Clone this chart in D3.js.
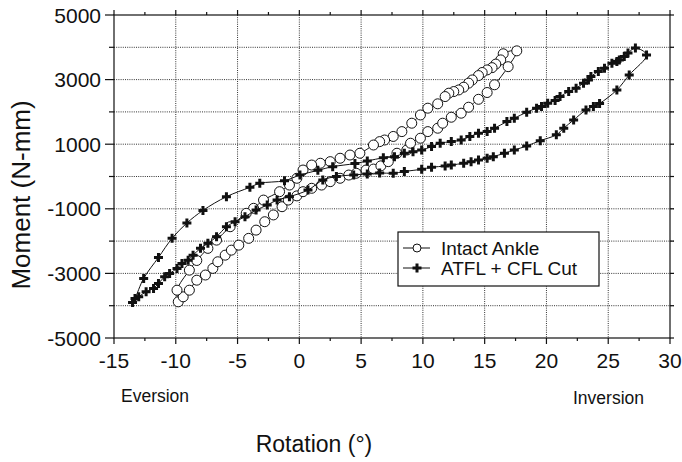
<!DOCTYPE html>
<meta charset="utf-8">

<head>
  <style>
    body { margin: 0; background: #fff; }
    text { font-family: "Liberation Sans", Arial, sans-serif; fill: #111; }
    .grid line { stroke: #333; stroke-width: 1; stroke-dasharray: 1, 1.2; }
    .frame { stroke: #111; stroke-width: 1.2; fill: none; }
    .tick-mark { stroke: #111; stroke-width: 1.2; }
    .loop { fill: none; stroke: #111; stroke-width: 1; }
  </style>
</head>

<body>
  <script src="https://d3js.org/d3.v7.min.js"></script>

  <div id="chart"></div>

  <script>

    // --- data (rotation in degrees, moment in N-mm) ---
    // Intact ankle: loading branch (eversion -> inversion) then unloading branch back
    var intactLoading = [
      [-9.8, -3880], [-9.4, -3725], [-8.9, -3520], [-8.3, -3210], [-7.6, -3050], [-7.0, -2845],
      [-6.6, -2640], [-6.0, -2435], [-5.5, -2280], [-4.9, -2125], [-4.1, -1915], [-3.5, -1660],
      [-2.8, -1400], [-2.1, -1190], [-1.4, -935], [-0.9, -730], [-0.2, -600], [0.3, -470],
      [1.0, -365], [1.8, -265], [2.5, -160], [3.3, -55], [4.0, 45], [4.6, 100], [5.4, 200],
      [6.0, 230], [6.6, 330], [7.2, 460], [7.9, 720], [8.7, 820], [9.0, 1030], [9.8, 1185],
      [10.4, 1390], [11.2, 1495], [11.6, 1650], [12.3, 1835], [13.1, 1960], [13.7, 2145],
      [14.5, 2390], [15.2, 2600], [15.8, 2840], [16.9, 3400], [17.6, 3890]
    ];
    var intactUnloading = [
      [17.6, 3890], [16.5, 3800], [16.3, 3610], [15.9, 3480], [15.6, 3370], [15.2, 3300],
      [14.8, 3220], [14.5, 3125], [14.0, 2990], [13.7, 2890], [13.3, 2765], [12.9, 2680],
      [12.5, 2630], [12.1, 2580], [11.8, 2475], [11.2, 2250], [10.4, 2115], [9.8, 1905],
      [9.1, 1650], [8.3, 1390], [7.6, 1240], [6.9, 1130], [6.5, 1080], [6.0, 975], [4.9, 720],
      [4.1, 665], [3.3, 565], [2.5, 460], [1.7, 410], [1.0, 355], [0.3, 200], [-0.2, -55],
      [-0.8, -265], [-1.6, -470], [-2.9, -730], [-3.7, -985], [-4.3, -1140], [-5.6, -1555],
      [-6.7, -1970], [-7.4, -2225], [-8.3, -2600], [-8.9, -2900], [-9.9, -3520]
    ];

    // ATFL + CFL cut
    var cutLoading = [
      [-13.5, -3900], [-13.0, -3725], [-12.4, -3570], [-11.8, -3465], [-11.4, -3310],
      [-10.9, -3105], [-10.5, -3000], [-9.9, -2845], [-9.5, -2690], [-9.0, -2590], [-8.6, -2435],
      [-8.0, -2225], [-7.4, -2070], [-6.7, -1865], [-5.9, -1555], [-5.2, -1400], [-4.4, -1245],
      [-3.5, -1040], [-2.6, -885], [-1.8, -730], [-0.8, -625], [0.7, -420], [1.9, -110],
      [3.0, 0], [4.4, 50], [5.5, 80], [6.5, 110], [7.6, 100], [8.5, 155], [9.9, 225],
      [10.7, 285], [11.8, 325], [12.3, 355], [13.3, 410], [13.9, 460], [14.5, 510], [15.2, 565],
      [15.7, 615], [16.6, 720], [17.4, 820], [18.4, 945], [19.5, 1110], [20.8, 1290],
      [21.4, 1495], [22.2, 1750], [23.2, 2060], [23.8, 2165], [24.3, 2260], [25.7, 2680],
      [26.7, 3145], [28.1, 3765], [27.2, 3975]
    ];
    var cutUnloading = [
      [27.2, 3975], [26.6, 3820], [26.3, 3715], [25.9, 3610], [25.7, 3560], [25.3, 3510],
      [24.7, 3355], [24.2, 3250], [23.6, 3095], [23.4, 2990], [23.0, 2890], [22.4, 2735],
      [21.8, 2630], [21.1, 2475], [20.7, 2350], [20.1, 2270], [19.6, 2165], [19.2, 2115],
      [18.4, 1990], [17.4, 1805], [16.8, 1700], [15.8, 1495], [15.2, 1390], [14.5, 1340],
      [13.8, 1235], [13.1, 1130], [12.3, 1080], [11.4, 1030], [10.7, 925], [9.9, 820],
      [9.2, 770], [8.5, 720], [7.7, 615], [6.8, 580], [5.5, 480], [4.5, 400], [2.7, 305],
      [1.5, 190], [0.05, 45], [-1.2, -130], [-3.2, -210], [-4.0, -335], [-5.9, -625],
      [-7.8, -1050], [-9.1, -1440], [-10.3, -1915], [-11.4, -2505], [-12.6, -3155], [-13.3, -3775]
    ];

    var seriesNames = ["Intact Ankle", "ATFL + CFL Cut"];
    var xTicks = [-15, -10, -5, 0, 5, 10, 15, 20, 25, 30];
    var yTicks = [-5000, -3000, -1000, 1000, 3000, 5000];
    var yGrid = [-4000, -3000, -2000, -1000, 0, 1000, 2000, 3000, 4000];
    var xGrid = [-10, -5, 0, 5, 10, 15, 20, 25];

    var width = 682,
      height = 462;
    var margin = { left: 114, right: 12, top: 15, bottom: 124 };

    var svg = d3.select('#chart')
      .append('svg')
      .attr('width', width)
      .attr('height', height);

    var x = d3.scaleLinear().domain([-15, 30]).range([margin.left, width - margin.right]);
    var y = d3.scaleLinear().domain([-5000, 5000]).range([height - margin.bottom, margin.top]);

    // dotted grid
    var grid = svg.append('g').attr('class', 'grid');
    grid.selectAll('.h').data(yGrid).enter().append('line')
      .attr('x1', x(-15)).attr('x2', x(30) + 4)
      .attr('y1', d => y(d)).attr('y2', d => y(d));
    grid.selectAll('.v').data(xGrid).enter().append('line')
      .attr('x1', d => x(d)).attr('x2', d => x(d))
      .attr('y1', y(5000)).attr('y2', y(-5000));

    // frame
    svg.append('rect').attr('class', 'frame')
      .attr('x', x(-15)).attr('y', y(5000))
      .attr('width', x(30) - x(-15)).attr('height', y(-5000) - y(5000));

    // left axis ticks (every 1000, longer where labelled)
    var yAll = d3.range(-5000, 5001, 1000);
    svg.selectAll('.ltick').data(yAll).enter().append('line')
      .attr('class', 'tick-mark')
      .attr('x1', d => x(-15) - (yTicks.includes(d) ? 9 : 5)).attr('x2', x(-15))
      .attr('y1', d => y(d)).attr('y2', d => y(d));
    svg.selectAll('.rtick').data(yAll).enter().append('line')
      .attr('class', 'tick-mark')
      .attr('x1', x(30)).attr('x2', x(30) + 4)
      .attr('y1', d => y(d)).attr('y2', d => y(d));

    // top and bottom ticks every 2.5
    var xAll = d3.range(-15, 30.01, 2.5);
    svg.selectAll('.btick').data(xAll).enter().append('line')
      .attr('class', 'tick-mark')
      .attr('x1', d => x(d)).attr('x2', d => x(d))
      .attr('y1', y(-5000)).attr('y2', d => y(-5000) + (d % 5 === 0 ? 6 : 3));
    svg.selectAll('.ttick').data(xAll).enter().append('line')
      .attr('class', 'tick-mark')
      .attr('x1', d => x(d)).attr('x2', d => x(d))
      .attr('y1', y(5000)).attr('y2', d => y(5000) - (d % 5 === 0 ? 5 : 3));

    // tick labels
    svg.selectAll('.ylab').data(yTicks).enter().append('text')
      .attr('x', x(-15) - 13).attr('y', d => y(d)).attr('dy', '0.36em')
      .attr('text-anchor', 'end').style('font-size', '21px')
      .text(d => d);
    svg.selectAll('.xlab').data(xTicks).enter().append('text')
      .attr('x', d => x(d)).attr('y', y(-5000) + 30)
      .attr('text-anchor', 'middle').style('font-size', '21px')
      .text(d => d);

    // axis titles
    svg.append('text').attr('transform', 'translate(30,195) rotate(-90)')
      .attr('text-anchor', 'middle').style('font-size', '26px').text('Moment (N-mm)');
    svg.append('text').attr('x', 314).attr('y', 452)
      .attr('text-anchor', 'middle').style('font-size', '23px').text('Rotation (°)');
    svg.append('text').attr('x', 121).attr('y', 402).style('font-size', '17.5px').text('Eversion');
    svg.append('text').attr('x', 573).attr('y', 404).style('font-size', '17.5px').text('Inversion');

    var line = d3.line()
      .x(d => x(d[0]))
      .y(d => y(d[1]))
      .curve(d3.curveCatmullRom.alpha(0.5));

    var cross = d3.symbol().type(d3.symbolCross).size(45);

    // intact ankle loop with open circles
    var intact = intactLoading.concat(intactUnloading.slice(1)).concat([intactLoading[0]]);
    svg.append('path').attr('class', 'loop').attr('d', line(intact));
    svg.selectAll('.circ').data(intactLoading.concat(intactUnloading.slice(1))).enter().append('circle')
      .attr('cx', d => x(d[0])).attr('cy', d => y(d[1])).attr('r', 5)
      .attr('fill', '#fff').attr('stroke', '#111').attr('stroke-width', 1);

    // ATFL + CFL cut loop with crosses
    var cut = cutLoading.concat(cutUnloading.slice(1)).concat([cutLoading[0]]);
    svg.append('path').attr('class', 'loop').attr('d', line(cut));
    svg.selectAll('.cross').data(cutLoading.concat(cutUnloading.slice(1))).enter().append('path')
      .attr('d', cross)
      .attr('transform', d => 'translate(' + x(d[0]) + ',' + y(d[1]) + ')')
      .attr('fill', '#111');

    // legend
    var legend = svg.append('g').attr('transform', 'translate(398,232)');
    legend.append('rect').attr('width', 201).attr('height', 54)
      .attr('fill', '#fff').attr('stroke', '#111').attr('stroke-width', 1.2);
    seriesNames.forEach(function (name, i) {
      var ly = 16 + i * 20;
      legend.append('line').attr('x1', 5).attr('x2', 32).attr('y1', ly).attr('y2', ly)
        .attr('stroke', '#111').attr('stroke-width', 1);
      if (i === 0) {
        legend.append('circle').attr('cx', 19).attr('cy', ly).attr('r', 4)
          .attr('fill', '#fff').attr('stroke', '#111');
      } else {
        legend.append('path').attr('d', cross).attr('transform', 'translate(19,' + ly + ')')
          .attr('fill', '#111');
      }
      legend.append('text').attr('x', 43).attr('y', ly).attr('dy', '0.36em')
        .style('font-size', '19px').text(name);
    });
  </script>
</body>
